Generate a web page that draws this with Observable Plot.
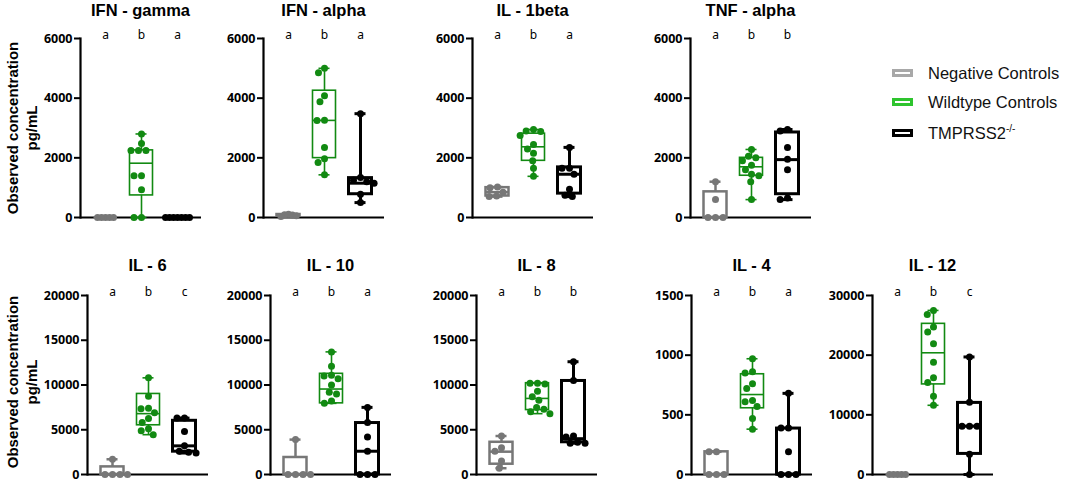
<!DOCTYPE html>
<html>
<head>
<meta charset="utf-8">
<script src="https://cdn.jsdelivr.net/npm/d3@7"></script>
<script src="https://cdn.jsdelivr.net/npm/@observablehq/plot@0.6"></script>
<style>
  body { margin: 0; background: #fff; font-family: "Liberation Sans", Arial, sans-serif; }
  #root { position: relative; width: 1072px; height: 482px; overflow: hidden; background: #fff; }
  .panel { position: absolute; }
  .panel svg { position: absolute; left: 0; top: 0; overflow: visible; background: transparent; }
  .axes svg { font-weight: bold; }
  .title { position: absolute; font-weight: bold; font-size: 16.5px; line-height: 18px; white-space: nowrap; transform: translateX(-50%); color: #000; }
  .ylab { position: absolute; width: 230px; height: 38px; line-height: 19px; font-size: 15px; font-weight: bold; text-align: center; transform: rotate(-90deg); white-space: nowrap; color: #000; }
  .legend { position: absolute; left: 892px; top: 60px; font-size: 16.5px; color: #111; }
  .legend .row { position: absolute; left: 0; height: 20px; white-space: nowrap; }
  .legend .sw { position: absolute; left: 0; top: 6px; width: 15px; height: 2px; border: 3px solid; box-sizing: content-box; }
  .legend .lbl { position: absolute; left: 36px; top: 0; line-height: 20px; }
  .legend sup { font-size: 10px; vertical-align: 7px; line-height: 0; }
</style>
</head>
<body>
<div id="root"></div>
<script>
// ---------- data ----------
const groups = ["Negative Controls", "Wildtype Controls", "TMPRSS2-/-"];
const titles = ["IFN - gamma", "IFN - alpha", "IL - 1beta", "TNF - alpha", "IL - 6", "IL - 10", "IL - 8", "IL - 4", "IL - 12"];
const yMax = [6000, 6000, 6000, 6000, 20000, 20000, 20000, 1500, 30000];
const yTicks = [
  [0, 2000, 4000, 6000], [0, 2000, 4000, 6000], [0, 2000, 4000, 6000], [0, 2000, 4000, 6000],
  [0, 5000, 10000, 15000, 20000], [0, 5000, 10000, 15000, 20000], [0, 5000, 10000, 15000, 20000],
  [0, 500, 1000, 1500], [0, 10000, 20000, 30000]
];
const letters = [
  ["a", "b", "a"], ["a", "b", "a"], ["a", "b", "a"], ["a", "b", "b"],
  ["a", "b", "c"], ["a", "b", "a"], ["a", "b", "b"], ["a", "b", "a"], ["a", "b", "c"]
];

// observed values per group: [negative, wildtype, TMPRSS2-/-]
const ifnGammaPts = [[0, 0, 0, 0, 0], [2800, 2480, 2250, 2250, 2250, 1400, 1400, 930, 0, 0], [0, 0, 0, 0, 0, 0, 0]];
const ifnAlphaPts = [[110, 90, 80, 60, 30], [5000, 4850, 4080, 3880, 3260, 3250, 2350, 1970, 1840, 1430], [3480, 1340, 1250, 1200, 1150, 780, 500]];
const il1bPts = [[1020, 1000, 850, 720, 700], [2950, 2900, 2880, 2750, 2450, 2300, 2150, 1900, 1650, 1380], [2350, 1650, 1650, 1450, 950, 750, 700]];
const tnfAlphaPts = [[1200, 600, 0, 0, 0], [2280, 2050, 2000, 1900, 1750, 1600, 1450, 1400, 1200, 600], [2950, 2900, 2350, 1950, 1600, 650, 600]];
const il6Pts = [[1700, 0, 0, 0, 0], [10800, 8750, 7400, 7350, 6900, 6250, 5800, 5100, 4900, 4450], [6300, 6300, 4800, 3200, 2600, 2500, 2400]];
const il10Pts = [[3900, 0, 0, 0, 0], [13700, 12100, 11100, 11000, 10700, 10000, 9200, 9000, 8200, 7950], [7500, 5800, 4200, 2600, 0, 0, 0]];
const il8Pts = [[4300, 3000, 2600, 1500, 700], [10200, 10200, 10100, 9300, 8700, 8300, 7500, 7300, 7000, 6800], [12600, 10500, 4300, 4200, 3600, 3500, 3500]];
const il4Pts = [[190, 190, 0, 0, 0], [970, 860, 850, 760, 720, 620, 610, 570, 470, 380], [680, 390, 390, 190, 0, 0, 0]];
const il12Pts = [[0, 0, 0, 0, 0], [27500, 26800, 24700, 23900, 21900, 18800, 16200, 15400, 13100, 11600], [19700, 12100, 8100, 8100, 8100, 3400, 0]];

// box quartiles: [q1, median, q3] per group
const ifnGammaBox = [[0, 0, 0], [740, 1820, 2250], [0, 0, 0]];
const ifnAlphaBox = [[45, 80, 100], [1990, 3255, 4250], [780, 1150, 1320]];
const il1bBox = [[720, 850, 1000], [1900, 2370, 2810], [800, 1450, 1680]];
const tnfAlphaBox = [[0, 0, 860], [1400, 1700, 2000], [780, 1940, 2850]];
const il6Box = [[0, 0, 850], [5500, 6800, 9000], [2550, 3200, 6000]];
const il10Box = [[0, 0, 1900], [7950, 9550, 11250], [0, 2600, 5750]];
const il8Box = [[1150, 2550, 3600], [7200, 8500, 10200], [3600, 4000, 10450]];
const il4Box = [[0, 0, 190], [555, 670, 840], [0, 0, 385]];
const il12Box = [[0, 0, 0], [15100, 20400, 25250], [3450, 8100, 12000]];

const allPts = [ifnGammaPts, ifnAlphaPts, il1bPts, tnfAlphaPts, il6Pts, il10Pts, il8Pts, il4Pts, il12Pts];
const allBox = [ifnGammaBox, ifnAlphaBox, il1bBox, tnfAlphaBox, il6Box, il10Box, il8Box, il4Box, il12Box];

// ---------- styles / layout ----------
const groupColor = ["#777777", "#128a12", "#000000"];
const groupWidth = [2.5, 1.6, 3];
const legendColor = ["#a8a8a8", "#2ec42e", "#000000"];
const axisLeft = [80, 263, 472, 690, 87, 270, 476, 691, 872];
const rowTop = [38, 295];   // pixel of the top tick in each row
const ML = 45, MR = 6, MT = 14, MB = 8, PW = 121, PH = 179;
const W = ML + PW + MR, H = MT + PH + MB;

const root = document.getElementById("root");

function makePanel(i) {
  const row = i < 4 ? 0 : 1;
  const left = axisLeft[i] - ML;
  const top = rowTop[row] - MT;
  const div = document.createElement("div");
  div.className = "panel";
  div.style.left = left + "px";
  div.style.top = top + "px";
  div.style.width = W + "px";
  div.style.height = H + "px";

  const yScale = {domain: [0, yMax[i]], axis: null};

  // axes layer
  const axes = Plot.plot({
    width: W, height: H, marginLeft: ML, marginRight: MR, marginTop: MT, marginBottom: MB,
    x: {domain: [0, 1], axis: null},
    y: yScale,
    marks: [
      Plot.axisY({ticks: yTicks[i], tickSize: 6, tickPadding: 2, strokeWidth: 2, tickFormat: d => String(d), fontSize: 12.5, fontWeight: "bold"}),
      Plot.frame({anchor: "left", strokeWidth: 2.2}),
      Plot.ruleY([0], {strokeWidth: 2.2})
    ]
  });
  const axesWrap = document.createElement("div");
  axesWrap.className = "axes";
  axesWrap.appendChild(axes);
  div.appendChild(axesWrap);

  // data layer
  const win = 4 * yMax[i] / PH; // values within ~4px form a dense cluster
  const pts = [];
  allPts[i].forEach((vals, g) => {
    const dense = d3.max(vals, v => vals.filter(u => Math.abs(u - v) <= win).length);
    const tight = dense >= 5;
    vals.forEach(v => pts.push({group: groups[g], value: v, color: groupColor[g], tight}));
  });
  const boxes = allBox[i].map(([q1, med, q3], g) => ({
    group: groups[g], q1, med, q3,
    min: d3.min(allPts[i][g]), max: d3.max(allPts[i][g]),
    color: groupColor[g], sw: groupWidth[g]
  }));
  const lets = letters[i].map((t, g) => ({group: groups[g], t}));

  const dataLayer = Plot.plot({
    width: W, height: H, marginLeft: ML, marginRight: MR, marginTop: MT, marginBottom: MB,
    fx: {domain: groups, paddingInner: 0, paddingOuter: 0.18, axis: null},
    y: yScale,
    color: {type: "identity"},
    marks: [
      Plot.ruleX(boxes, {fx: "group", x: null, y1: "min", y2: "max", stroke: "color", strokeWidth: "sw"}),
      Plot.rect(boxes, {fx: "group", y1: "q1", y2: "q3", fill: "white", stroke: "color", strokeWidth: "sw", insetLeft: 6.5, insetRight: 6.5}),
      Plot.tickY(boxes, {fx: "group", y: "med", stroke: "color", strokeWidth: "sw", insetLeft: 6.5, insetRight: 6.5}),
      Plot.tickY(boxes, {fx: "group", y: "max", stroke: "color", strokeWidth: "sw", insetLeft: 12.5, insetRight: 12.5}),
      Plot.tickY(boxes, {fx: "group", y: "min", stroke: "color", strokeWidth: "sw", insetLeft: 12.5, insetRight: 12.5}),
      Plot.dot(pts.filter(d => !d.tight), Plot.dodgeX({anchor: "middle", padding: 0.5}, {fx: "group", y: "value", r: 3.5, fill: "color", stroke: null})),
      Plot.dot(pts.filter(d => d.tight), Plot.dodgeX({anchor: "middle", padding: -3}, {fx: "group", y: "value", r: 3.5, fill: "color", stroke: null})),
      Plot.text(lets, {fx: "group", text: "t", frameAnchor: "top", lineAnchor: "middle", dy: -3, fontSize: 12, fontWeight: "normal", fill: "#000"})
    ]
  });
  div.appendChild(dataLayer);
  root.appendChild(div);

  // title
  const t = document.createElement("div");
  t.className = "title";
  t.textContent = titles[i];
  t.style.left = (axisLeft[i] + PW / 2) + "px";
  t.style.top = (row === 0 ? 1 : 256) + "px";
  root.appendChild(t);
}

for (let i = 0; i < titles.length; i++) makePanel(i);

// y-axis labels
[128, 382].forEach(cy => {
  const d = document.createElement("div");
  d.className = "ylab";
  d.innerHTML = "Observed concentration<br>pg/mL";
  d.style.left = (22 - 115) + "px";
  d.style.top = (cy - 19) + "px";
  root.appendChild(d);
});

// legend
const lg = document.createElement("div");
lg.className = "legend";
const legendRows = [73, 102, 133];
groups.forEach((g, k) => {
  const r = document.createElement("div");
  r.className = "row";
  r.style.top = (legendRows[k] - 60 - 10) + "px";
  const sw = document.createElement("span");
  sw.className = "sw";
  sw.style.borderColor = legendColor[k];
  const lb = document.createElement("span");
  lb.className = "lbl";
  if (g === "TMPRSS2-/-") lb.innerHTML = "TMPRSS2<sup>-/-</sup>";
  else lb.textContent = g;
  r.appendChild(sw);
  r.appendChild(lb);
  lg.appendChild(r);
});
root.appendChild(lg);
</script>
</body>
</html>
